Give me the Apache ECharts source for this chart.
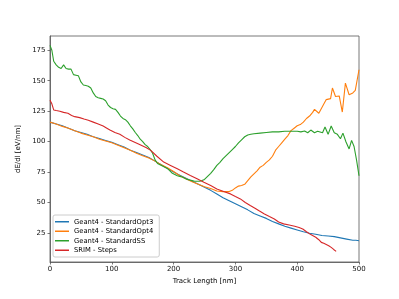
<!DOCTYPE html>
<html>
<head>
<meta charset="utf-8">
<script src="https://cdn.jsdelivr.net/npm/echarts@6/dist/echarts.min.js"></script>
<style>html,body{margin:0;padding:0;background:#fff}#c{width:399px;height:299px}</style>
</head>
<body>
<div id="c"></div>
<script>
const seriesNames = ["Geant4 - StandardOpt3", "Geant4 - StandardOpt4", "Geant4 - StandardSS", "SRIM - Steps"];
const seriesColors = ["#1f77b4", "#ff7f0e", "#2ca02c", "#d62728"];
const xTicks = [0, 100, 200, 300, 400, 500];
const yTicks = [25, 50, 75, 100, 125, 150, 175];

const opt3Data = [[0,116],[10,114.5],[20,113],[30,111],[40,109],[50,107.5],[60,106],[70,104],[80,102.5],[90,101],[100,99.5],[110,97.5],[120,95.5],[130,93],[140,91],[150,89],[160,87],[170,84],[180,81],[190,78],[200,75],[210,72.5],[220,70],[230,67.5],[240,65],[250,62.5],[260,60],[270,57],[280,54],[290,51.5],[300,49],[310,46.5],[320,44],[330,41],[340,39],[350,37],[360,34.5],[370,32.5],[380,30.5],[390,29],[400,27.5],[410,26],[420,24.8],[430,24],[440,23],[450,22.5],[460,22],[470,21],[480,20],[490,19],[495,19],[500,18.7]];

const opt4Data = [[0,116],[10,114.5],[20,112.5],[30,111],[40,109],[50,107],[60,105.5],[70,104],[80,102],[90,100.5],[100,99],[110,97],[120,95],[130,93],[140,90.5],[150,88.5],[160,86.5],[170,84],[180,81],[190,78.5],[200,75.5],[210,72],[220,69.5],[230,67],[240,65],[250,63],[260,61.5],[265,60.5],[270,59.5],[280,59],[290,59],[295,60],[300,62],[305,63.5],[310,64],[315,65],[320,68],[325,71],[330,73.5],[335,76],[340,79],[345,80.5],[350,83],[355,85],[360,88],[365,93],[370,96],[375,99],[380,102],[385,105],[390,109],[395,111],[400,113],[405,114],[410,116],[415,119],[420,121],[425,124],[428,126.5],[435,123.3],[440,128],[447,134.5],[454,135.3],[457,144],[462,137],[468,137.5],[473,124.3],[478,148],[484,138.5],[490,140],[494,142],[500,159]];

const ssData = [[0,179],[3,175],[6,166],[10,163],[14,161],[18,160],[22,163],[26,160],[30,159.5],[34,159.5],[38,155],[42,154.5],[46,154],[50,149],[54,146.5],[58,146],[62,145.5],[66,144],[70,140],[74,137],[78,136],[82,135.5],[86,135],[90,133.5],[94,130],[98,128],[102,127],[106,126.5],[110,124],[114,121],[118,119],[122,118],[126,116],[130,113],[134,110.5],[138,107.5],[142,105],[146,102],[150,100],[154,97.5],[158,96],[162,93.5],[166,90.5],[170,85],[174,82],[178,81],[182,80],[186,79],[190,78],[194,76],[198,74],[202,73],[206,72],[210,71.5],[214,71],[218,70],[222,69],[226,68.5],[230,68],[234,67.5],[238,67.5],[242,67.5],[246,68],[250,69],[255,71.5],[260,74],[265,77],[270,80.5],[275,83],[280,86],[285,88.5],[290,91],[295,93.5],[300,96],[305,99],[310,101.5],[315,104],[320,105.5],[325,106],[330,106.5],[340,107],[350,107.5],[360,108],[370,108],[380,108.5],[390,108.5],[400,108.5],[406,108],[412,108.7],[417,107.3],[422,109.5],[428,107.3],[433,108.5],[436,110],[441,107.3],[445,112],[450,106],[455,112.8],[460,107.3],[465,106],[470,102.4],[474,107],[479,99.7],[484,94],[488,101],[492,96],[496,85],[500,72]];

const srimData = [[0,134],[3,131],[6,126],[10,125.5],[16,125],[22,124],[29,123.3],[35,121.5],[40,120.5],[48,119.7],[55,118.5],[62,117.5],[70,116],[78,114.5],[86,112.8],[92,111],[97,109.5],[105,107.5],[113,106],[121,103.5],[129,101.3],[137,99.5],[145,97.7],[156,95],[163,92.8],[173,88],[184,83.2],[195,80.5],[206,77.7],[216,75],[227,72.2],[238,69.5],[249,66.7],[260,64],[270,61.2],[281,59],[292,57.1],[300,55],[308,53],[316,50],[324,47.5],[331,45.5],[339,43],[347,40.6],[355,38.5],[363,36.5],[370,34],[378,32.5],[387,31.5],[396,30.5],[403,29.5],[409,28.3],[415,26],[422,23.7],[430,21.5],[435,19.5],[439,17.3],[443,16.5],[447,15.5],[451,14.5],[455,13.2],[459,11.5],[463,9.9]];

const allData = [opt3Data, opt4Data, ssData, srimData];
const FONT = "DejaVu Sans";

const chart = echarts.init(document.getElementById('c'), null, {renderer: 'canvas'});
chart.setOption({
  animation: false,
  backgroundColor: '#fff',
  textStyle: {fontFamily: FONT},
  grid: {left: 50, top: 36, width: 309, height: 226, show: true, borderColor: '#555', borderWidth: 0.8, containLabel: false},
  legend: {
    data: seriesNames,
    orient: 'vertical',
    left: 53, top: 215,
    padding: [2, 6, 2, 2],
    itemGap: 0,
    itemWidth: 14, itemHeight: 1.5,
    itemTextGap: 6,
    icon: 'rect',
    backgroundColor: 'rgba(255,255,255,0.8)',
    borderColor: '#cccccc', borderWidth: 1, borderRadius: 2,
    textStyle: {fontFamily: FONT, fontSize: 6.8, color: '#000', lineHeight: 9.5}
  },
  xAxis: {
    type: 'value', min: 0, max: 500, interval: 100,
    name: 'Track Length [nm]', nameLocation: 'middle', nameGap: 12,
    nameTextStyle: {fontFamily: FONT, fontSize: 7, color: '#000'},
    axisLine: {show: true, lineStyle: {color: '#555', width: 0.8}},
    axisTick: {show: true, inside: false, length: 2.5, lineStyle: {color: '#555', width: 0.8}, customValues: xTicks},
    axisLabel: {fontFamily: FONT, fontSize: 7, color: '#111', margin: 3.5, customValues: xTicks},
    splitLine: {show: false}
  },
  yAxis: {
    type: 'value', min: 1.2, max: 186.7,
    name: 'dE/dl [eV/nm]', nameLocation: 'middle', nameGap: 21, nameRotate: 90,
    nameTextStyle: {fontFamily: FONT, fontSize: 7, color: '#000'},
    axisLine: {show: true, lineStyle: {color: '#555', width: 0.8}},
    axisTick: {show: true, inside: false, length: 2.5, lineStyle: {color: '#555', width: 0.8}, customValues: yTicks},
    axisLabel: {fontFamily: FONT, fontSize: 7, color: '#111', margin: 4.5, customValues: yTicks},
    splitLine: {show: false}
  },
  series: seriesNames.map((n, i) => ({
    name: n, type: 'line', data: allData[i],
    showSymbol: false, symbol: 'none',
    color: seriesColors[i],
    lineStyle: {color: seriesColors[i], width: 1.1},
    z: 2 + i
  }))
});
</script>
</body>
</html>
